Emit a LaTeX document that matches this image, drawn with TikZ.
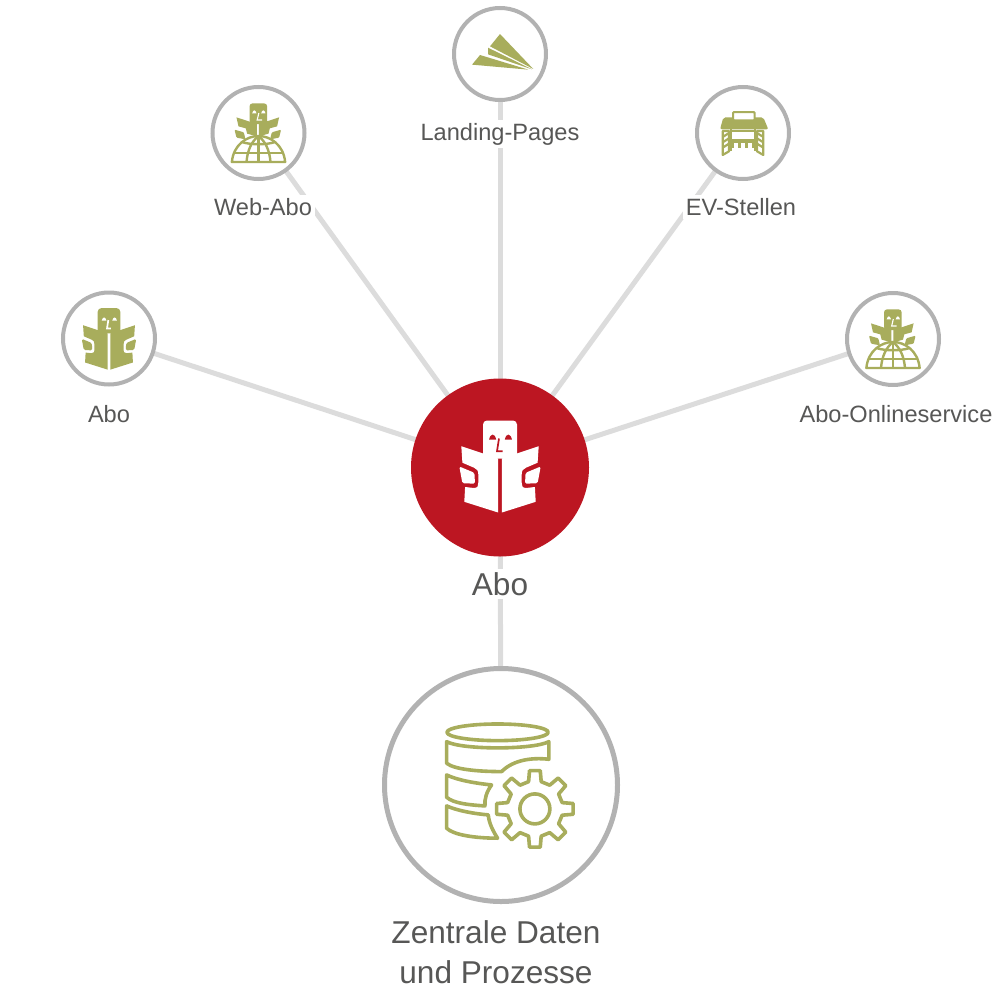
\documentclass[tikz,border=0pt]{standalone}
\usepackage{fontspec}
\setmainfont{Liberation Sans}
\usetikzlibrary{backgrounds}
\definecolor{brandred}{HTML}{BC1622}
\definecolor{olive}{HTML}{A8AD5C}
\definecolor{ringgray}{HTML}{B2B2B2}
\definecolor{linkgray}{HTML}{DCDCDC}
\definecolor{txt}{HTML}{575756}
\tikzset{
  smallring/.style={circle,draw=ringgray,line width=4pt,fill=white,minimum size=92pt,inner sep=0pt},
  bigring/.style={circle,draw=ringgray,line width=5pt,fill=white,minimum size=233pt,inner sep=0pt},
  hub/.style={circle,fill=brandred,minimum size=178pt,inner sep=0pt},
  smalllabel/.style={fill=white,text=txt,font=\fontsize{23.6}{28}\selectfont,inner sep=3pt},
  biglabel/.style={fill=white,text=txt,font=\fontsize{31.6}{40}\selectfont,inner sep=3pt,align=center},
  link/.style={draw=linkgray,line width=5pt},
  pics/reader/.style 2 args={code={
    \fill[#1,rounded corners=4pt] (-17,-20) -- (-17,-47) -- (17,-47) -- (17,-9) -- (-17,-9) -- cycle;
    \fill[#2] (-10.9,-28) .. controls (-9.5,-34.5) and (-5.2,-34.5) .. (-3.8,-28) -- cycle;
    \fill[#2] (4.8,-28) .. controls (6.2,-34.5) and (10.5,-34.5) .. (11.9,-28) -- cycle;
    \draw[#2,line width=1.7pt] (-1,-29) -- (-3,-16.3) -- (2.7,-16.3);
    \foreach \sx in {-1,1}{
      \begin{scope}[xscale=\sx]
      \fill[#1] (-38.7,-21.3) -- (-1.9,-9) -- (-1.9,45) -- (-35.7,34.3) -- (-34.9,19.5) -- (-26,20.5)
        .. controls (-22,20.5) and (-21.7,18) .. (-21.7,15) -- (-21.7,7)
        .. controls (-21.7,3) and (-23,1.5) .. (-26,0.2) -- (-37.6,-4.8) -- cycle;
      \fill[#1,rounded corners=1.5pt] (-40.7,-1) -- (-25.6,5.3) -- (-25,16.2) -- (-37.6,15.7) -- cycle;
      \end{scope}}
  }},
  pics/globereader/.style={code={
    \fill[olive,rounded corners=3pt] (-27,-89) rectangle (26,-27);
    \fill[white] (-19,-59) .. controls (-16,-71) and (-9,-71) .. (-6,-59) -- cycle;
    \fill[white] (8,-59) .. controls (11,-71) and (18,-71) .. (21,-59) -- cycle;
    \draw[white,line width=1.1pt] (1,-60) -- (-4,-39) -- (11,-39);
    \begin{scope}[xshift=-.7pt]
    \foreach \sx in {-1,1}{
      \begin{scope}[xscale=\sx]
      \fill[olive] (-64,-47) -- (-3,-27) -- (-3,10) -- (-32,2) -- (-36,-14) -- (-58,-20) -- cycle;
      \fill[olive,rounded corners=1pt] (-70,-10) -- (-42,-2) -- (-37,19) -- (-64,14) -- cycle;
      \end{scope}}
    \end{scope}
    \begin{scope}[olive,line width=2.4pt,line join=round]
    \draw (-80,87) .. controls (-75,35) and (-35,9) .. (0,9) .. controls (35,9) and (75,35) .. (80,87) -- cycle;
    \draw (-36,87) .. controls (-33,50) and (-20,25) .. (0,9) .. controls (20,25) and (33,50) .. (36,87);
    \draw (0,9) -- (0,87);
    \draw (-50,27) .. controls (-25,36) and (25,36) .. (50,27);
    \draw (-73,60) -- (73,60);
    \end{scope}
  }},
  pics/plane/.style={code={
    \fill[olive] (0,-60) -- (100,45) -- (-30,-23) -- cycle;
    \fill[olive] (-36,-19) -- (96,46) -- (-36,1) -- cycle;
    \fill[olive] (-60,3) -- (85,47) -- (-84,32) -- cycle;
  }},
  pics/kiosk/.style={code={
    \fill[olive,rounded corners=2pt] (-59,-47) -- (61,-47) -- (76,-11) -- (-69,-11) -- cycle;
    \draw[olive,fill=white,line width=2pt,rounded corners=1pt] (-30,-63) rectangle (35,-38);
    \begin{scope}[olive,line width=2.2pt]
    \draw (-36,-7) -- (36,-7);
    \draw (-37,-11) -- (-37,55);
    \draw (37,-11) -- (37,55);
    \end{scope}
    \fill[olive] (-37,19) rectangle (37,29);
    \foreach \tx in {-37,-14,6,28}{\fill[olive] (\tx,29) rectangle (\tx+9,46);}
    \foreach \sx in {-1,1}{
      \begin{scope}[xscale=\sx]
      \draw[olive,line width=2.2pt,line join=round] (-61,-6) -- (-42,-6) -- (-42,55) -- (-61,66) -- cycle;
      \foreach \yy in {4,20,36}{\draw[olive,line width=2.2pt] (-61,\yy+8) -- (-42,\yy-4);}
      \end{scope}}
  }},
  pics/database/.style={code={
    \begin{scope}[olive,line width=3.6pt,line join=round]
    \draw (218,97) ellipse [x radius=152,y radius=25];
    \draw (65,125) .. controls (110,150) and (325,150) .. (372,125) -- (372,178)
      .. controls (320,172) and (265,180) .. (230,215) .. controls (170,215) and (90,210) .. (65,190) -- cycle;
    \draw (65,225) .. controls (95,240) and (150,250) .. (200,255) .. controls (185,275) and (178,298) .. (180,318)
      .. controls (130,315) and (85,310) .. (65,292) -- cycle;
    \draw (65,318) .. controls (95,332) and (150,342) .. (190,345) .. controls (192,370) and (205,395) .. (218,415)
      .. controls (150,415) and (85,405) .. (65,385) -- cycle;
    \begin{scope}[shift={(330,327)}]
    \draw (0,0) circle [radius=45];
    \draw (-13:84) \foreach \a in {0,45,...,315}{
      -- (\a-13:84) -- (\a-8:116) -- (\a+8:116) -- (\a+13:84)} -- cycle;
    \end{scope}
    \end{scope}
  }},
}
\begin{document}
\begin{tikzpicture}[x=1pt,y=-1pt]
\useasboundingbox (0,0) rectangle (1000,1004);
\node[hub] (hubn) at (500,467.5) {};
\node[smallring] (abo) at (109,338.5) {};
\node[smallring] (web) at (258.5,133) {};
\node[smallring] (land) at (500,54) {};
\node[smallring] (ev) at (743,133) {};
\node[smallring] (online) at (893,339) {};
\node[bigring] (data) at (501,785) {};
\coordinate (dbo) at (425,700);
\coordinate (aboicon) at (109,339.5);
\node[smalllabel] (labo) at (109,414) {Abo};
\node[smalllabel] (lweb) at (263,207) {Web-Abo};
\node[smalllabel] (lland) at (500,134) {Landing-Pages};
\node[smalllabel] (lev) at (741,207) {EV-Stellen};
\node[smalllabel] (lonline) at (896,414) {Abo-Onlineservice};
\node[biglabel] (lhub) at (500,584) {Abo};
\node[biglabel,fill=none] (ldata) at (496,952) {Zentrale Daten\\und Prozesse};
\begin{scope}[on background layer]
\draw[link] (hubn.center) -- (abo.center);
\draw[link] (hubn.center) -- (web.center);
\draw[link] (hubn.center) -- (land.center);
\draw[link] (hubn.center) -- (ev.center);
\draw[link] (hubn.center) -- (online.center);
\draw[link] (hubn.center) -- (data.center);
\end{scope}
\pic at (hubn.center) {reader={white}{brandred}};
\pic[scale=.67] at (aboicon) {reader={olive}{white}};
\pic[x=.333pt,y=-.333pt] at (web.center) {globereader};
\pic[x=.333pt,y=-.333pt] at (online.center) {globereader};
\pic[x=.333pt,y=-.333pt] at (land.center) {plane};
\pic[x=.333pt,y=-.333pt] at (ev.center) {kiosk};
\pic[x=.333pt,y=-.333pt] at (dbo) {database};
\end{tikzpicture}
\end{document}
